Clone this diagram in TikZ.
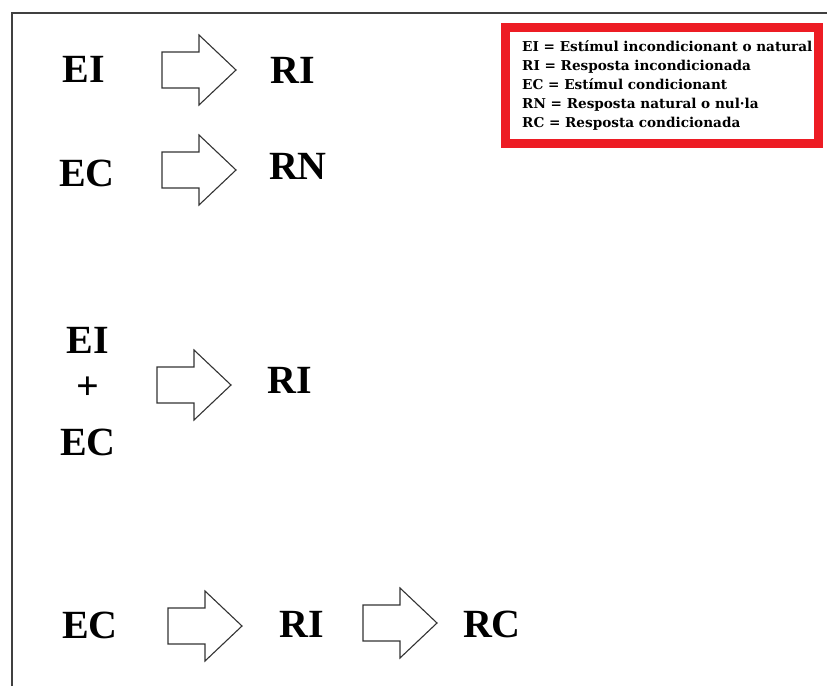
\documentclass[tikz,border=0pt]{standalone}
\usepackage{fontspec}
\setmainfont{Liberation Serif}
\newfontfamily\legendfont{DejaVu Serif}
\begin{document}
\begin{tikzpicture}[x=1pt,y=-1pt,
  big/.style={font=\bfseries\fontsize{40}{40}\selectfont, inner sep=0pt, text=black},
  legendtext/.style={font=\legendfont\bfseries\fontsize{13.6}{19}\selectfont, inner sep=0pt, align=left, anchor=north west},
  arrowline/.style={draw=black!80, line width=1.1pt, fill=white, line join=miter},
  blockarrow/.pic={\path[arrowline] (0,-18) -- (37,-18) -- (37,-35) -- (74,0) -- (37,35) -- (37,18) -- (0,18) -- cycle;}]
\useasboundingbox (0,0) rectangle (827,686);
\fill[white] (0,0) rectangle (827,686);
% frame lines
\draw[black!75, line width=1.2pt] (12,686) -- (12,13) -- (827,13);
% legend
\draw[draw={rgb,255:red,237;green,28;blue,36}, line width=9pt] (505.5,27.5) rectangle (818.5,143.5);
\node[legendtext] (leg) at (522,40) {EI = Estímul incondicionant o natural\\RI = Resposta incondicionada\\EC = Estímul condicionant\\RN = Resposta natural o nul·la\\RC = Resposta condicionada};
% row 1
\node[big] (ei1) at (84,69) {EI};
\pic at (162,70) {blockarrow};
\node[big] (ri1) at (293,70) {RI};
% row 2
\node[big] (ec2) at (87,173) {EC};
\pic at (162,170) {blockarrow};
\node[big] (rn2) at (298,166) {RN};
% row 3
\node[big] (ei3) at (88,340) {EI};
\node[big] (plus3) at (88,388) {\textbf{+}};
\node[big] (ec3) at (88,442) {EC};
\pic at (157,385) {blockarrow};
\node[big] (ri3) at (290,380) {RI};
% row 4
\node[big] (ec4) at (90,625) {EC};
\pic at (168,626) {blockarrow};
\node[big] (ri4) at (302,624) {RI};
\pic at (363,623) {blockarrow};
\node[big] (rc4) at (492,624) {RC};
\end{tikzpicture}
\end{document}
